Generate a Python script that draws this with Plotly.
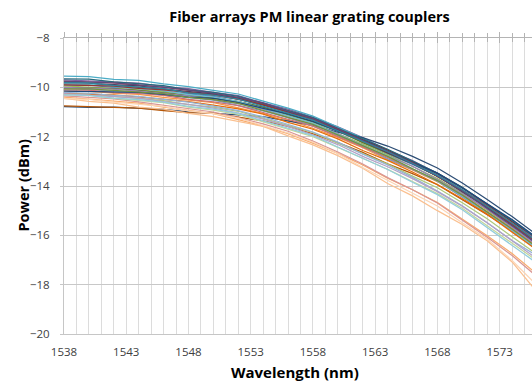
import plotly.graph_objects as go

# ---------------- data ----------------
wavelength = [1538, 1540, 1542, 1544, 1546, 1548, 1550, 1552, 1554, 1556,
              1558, 1560, 1562, 1564, 1566, 1568, 1570, 1572, 1574, 1576]

x_tick_vals = [1538, 1543, 1548, 1553, 1558, 1563, 1568, 1573]
y_tick_vals = [-20, -18, -16, -14, -12, -10, -8]

s01 = [-9.91, -9.91, -10.0, -10.04, -10.16, -10.27, -10.37, -10.58, -10.81, -11.08,
       -11.41, -11.79, -12.22, -12.7, -13.13, -13.6, -14.23, -14.86, -15.54, -16.32]
s02 = [-9.76, -9.79, -9.82, -9.92, -9.99, -10.12, -10.22, -10.43, -10.65, -10.93,
       -11.27, -11.65, -12.13, -12.55, -13.04, -13.53, -14.15, -14.77, -15.5, -16.24]
s03 = [-9.94, -9.99, -10.03, -10.1, -10.18, -10.34, -10.44, -10.59, -10.87, -11.15,
       -11.43, -11.87, -12.3, -12.73, -13.21, -13.7, -14.28, -14.97, -15.65, -16.38]
s04 = [-9.70, -9.74, -9.78, -9.83, -9.97, -10.05, -10.2, -10.34, -10.63, -10.88,
       -11.22, -11.6, -12.04, -12.54, -12.97, -13.5, -14.07, -14.76, -15.44, -16.22]
s05 = [-9.55, -9.57, -9.68, -9.72, -9.86, -9.97, -10.12, -10.27, -10.56, -10.84,
       -11.17, -11.6, -12.06, -12.57, -13.02, -13.57, -14.16, -14.87, -15.58, -16.35]
s06 = [-10.16, -10.16, -10.24, -10.29, -10.41, -10.52, -10.62, -10.83, -11.06, -11.33,
       -11.66, -12.03, -12.45, -12.93, -13.35, -13.82, -14.45, -15.07, -15.74, -16.52]
s07 = [-10.78, -10.81, -10.8, -10.86, -10.89, -10.99, -11.04, -11.12, -11.19, -11.36,
       -11.54, -11.82, -12.04, -12.38, -12.8, -13.27, -13.88, -14.55, -15.24, -15.98]
s08 = [-9.85, -9.88, -9.91, -10.0, -10.06, -10.21, -10.3, -10.45, -10.73, -11.0,
       -11.27, -11.7, -12.12, -12.54, -13.01, -13.49, -14.06, -14.74, -15.41, -16.13]
s09 = [-10.0, -10.03, -10.05, -10.12, -10.22, -10.3, -10.43, -10.58, -10.8, -11.12,
       -11.39, -11.76, -12.24, -12.66, -13.08, -13.61, -14.18, -14.85, -15.53, -16.25]
s10 = [-9.79, -9.84, -9.89, -9.94, -10.07, -10.17, -10.27, -10.48, -10.7, -10.98,
       -11.33, -11.72, -12.16, -12.66, -13.1, -13.59, -14.24, -14.88, -15.57, -16.37]
s11 = [-9.66, -9.67, -9.78, -9.84, -9.93, -10.1, -10.2, -10.37, -10.66, -10.95,
       -11.23, -11.66, -12.08, -12.51, -12.99, -13.47, -14.05, -14.73, -15.4, -16.13]
s12 = [-10.75, -10.78, -10.8, -10.84, -10.94, -11.03, -11.05, -11.2, -11.36, -11.58,
       -11.89, -12.24, -12.64, -13.1, -13.5, -13.95, -14.56, -15.16, -15.81, -16.57]
s13 = [-10.04, -10.09, -10.14, -10.19, -10.32, -10.42, -10.52, -10.73, -10.96, -11.23,
       -11.57, -11.96, -12.4, -12.89, -13.33, -13.81, -14.45, -15.09, -15.78, -16.57]
s14 = [-10.1, -10.11, -10.21, -10.25, -10.33, -10.49, -10.59, -10.74, -11.02, -11.3,
       -11.57, -12.0, -12.42, -12.84, -13.32, -13.79, -14.36, -15.04, -15.71, -16.43]
s15 = [-10.26, -10.27, -10.37, -10.44, -10.54, -10.7, -10.8, -10.97, -11.26, -11.55,
       -11.83, -12.26, -12.69, -13.11, -13.6, -14.07, -14.68, -15.33, -16.06, -16.77]
s16 = [-10.0, -10.04, -10.07, -10.15, -10.26, -10.35, -10.5, -10.66, -10.88, -11.22,
       -11.5, -11.87, -12.36, -12.78, -13.2, -13.74, -14.32, -14.94, -15.67, -16.4]
s17 = [-9.86, -9.87, -9.97, -10.04, -10.13, -10.3, -10.4, -10.57, -10.86, -11.15,
       -11.45, -11.9, -12.35, -12.79, -13.3, -13.79, -14.39, -15.1, -15.8, -16.53]
s18 = [-10.4, -10.47, -10.55, -10.64, -10.8, -10.94, -11.07, -11.31, -11.57, -11.88,
       -12.26, -12.68, -13.15, -13.68, -14.15, -14.67, -15.35, -16.02, -16.74, -17.57]
s19 = [-10.15, -10.16, -10.2, -10.2, -10.29, -10.4, -10.45, -10.62, -10.85, -11.08,
       -11.38, -11.77, -12.15, -12.6, -13.04, -13.48, -14.08, -14.72, -15.36, -16.1]
s20 = [-9.9, -9.92, -9.95, -10.04, -10.1, -10.2, -10.32, -10.49, -10.7, -11.02,
       -11.3, -11.69, -12.17, -12.62, -13.05, -13.6, -14.18, -14.82, -15.56, -16.3]
s21 = [-10.06, -10.06, -10.12, -10.2, -10.26, -10.41, -10.5, -10.65, -10.93, -11.2,
       -11.5, -11.93, -12.37, -12.8, -13.3, -13.78, -14.37, -15.06, -15.74, -16.48]
s22 = [-9.75, -9.79, -9.82, -9.9, -10.0, -10.1, -10.25, -10.41, -10.63, -10.97,
       -11.26, -11.68, -12.16, -12.59, -13.07, -13.6, -14.2, -14.9, -15.6, -16.33]
s23 = [-9.81, -9.82, -9.92, -9.97, -10.05, -10.22, -10.32, -10.48, -10.77, -11.05,
       -11.33, -11.76, -12.19, -12.61, -13.09, -13.57, -14.15, -14.83, -15.51, -16.24]
s24 = [-10.25, -10.29, -10.31, -10.39, -10.49, -10.58, -10.72, -10.87, -11.09, -11.42,
       -11.7, -12.09, -12.56, -12.96, -13.43, -13.94, -14.52, -15.14, -15.87, -16.6]
s25 = [-10.2, -10.24, -10.33, -10.37, -10.49, -10.6, -10.76, -10.94, -11.2, -11.5,
       -11.81, -12.22, -12.71, -13.15, -13.65, -14.2, -14.8, -15.49, -16.21, -16.83]
s26 = [-10.35, -10.41, -10.47, -10.59, -10.72, -10.84, -11.0, -11.23, -11.48, -11.78,
       -12.18, -12.62, -13.11, -13.66, -14.15, -14.69, -15.39, -16.08, -16.82, -17.67]
s27 = [-10.3, -10.33, -10.45, -10.52, -10.62, -10.8, -10.92, -11.1, -11.4, -11.7,
       -12.0, -12.44, -12.88, -13.32, -13.82, -14.31, -14.9, -15.6, -16.29, -17.03]
s28 = [-10.25, -10.31, -10.37, -10.44, -10.58, -10.69, -10.84, -11.04, -11.29, -11.58,
       -11.93, -12.32, -12.8, -13.22, -13.7, -14.23, -14.82, -15.49, -16.22, -16.95]
s29 = [-10.31, -10.33, -10.44, -10.5, -10.6, -10.77, -10.88, -11.06, -11.36, -11.65,
       -11.96, -12.42, -12.88, -13.33, -13.85, -14.35, -14.96, -15.67, -16.38, -17.13]
s30 = [-10.45, -10.57, -10.64, -10.8, -10.88, -11.06, -11.19, -11.39, -11.58, -11.97,
       -12.33, -12.77, -13.28, -13.9, -14.4, -15.0, -15.56, -16.22, -17.08, -18.3]
s31 = [-10.46, -10.49, -10.6, -10.67, -10.77, -10.95, -11.07, -11.25, -11.55, -11.85,
       -12.22, -12.68, -13.25, -13.76, -14.27, -14.81, -15.49, -16.15, -17.02, -18.03]

series_values = [s01, s02, s03, s04, s05, s06, s07, s08, s09, s10, s11, s12, s13, s14, s15, s16,
                 s17, s18, s19, s20, s21, s22, s23, s24, s25, s26, s27, s28, s29, s30, s31]
series_colors = ["#4F81BD", "#C0504D", "#9BBB59", "#8064A2", "#4BACC6", "#F79646",
                 "#2C4D75", "#772C2A", "#5F7530", "#4D3B62", "#276A7C", "#B65708",
                 "#729ACA", "#CD7371", "#AFC97A", "#9983B5", "#6FBDD1", "#F9AB6B",
                 "#1F497D", "#943634", "#76923C", "#5F497A", "#31859C", "#E46C0A",
                 "#95B3D7", "#D99694", "#C3D69B", "#B3A2C7", "#93CDDD", "#FAC090",
                 "#FCD5B5"]

# ---------------- figure ----------------
FONT = "Open Sans"
fig = go.Figure()
for i, (vals, col) in enumerate(zip(series_values, series_colors)):
    fig.add_trace(go.Scatter(x=wavelength, y=vals, mode="lines",
                             line=dict(color=col, width=1.25),
                             name=f"FA {i + 1}", showlegend=False))

# empty helper traces so that the top tick-mark axes get drawn
fig.add_trace(go.Scatter(x=[], y=[], xaxis="x2", yaxis="y", showlegend=False, hoverinfo="skip"))
fig.add_trace(go.Scatter(x=[], y=[], xaxis="x3", yaxis="y", showlegend=False, hoverinfo="skip"))

x_range = [1538, 1575.6]
tick_grey = "#b4b4b4"
fig.update_layout(
    width=532, height=383,
    margin=dict(l=64, r=0, t=38, b=49),
    paper_bgcolor="white", plot_bgcolor="white",
    showlegend=False,
    font=dict(family=FONT, color="#404040", size=12),
    xaxis=dict(range=x_range, tickmode="array", tickvals=x_tick_vals,
               ticktext=[str(v) for v in x_tick_vals],
               showgrid=True, gridcolor="#dcdcdc", gridwidth=1,
               minor=dict(dtick=1, tick0=1538, showgrid=True, gridcolor="#dcdcdc", gridwidth=1),
               showline=True, linecolor="#c6c6c6", linewidth=1,
               ticks="", ticklabelstandoff=7,
               tickfont=dict(family=FONT, size=11.5, color="#404040"),
               zeroline=False, fixedrange=True),
    xaxis2=dict(range=x_range, overlaying="x", side="top", anchor="y",
                tick0=1538, dtick=5, showgrid=False, showticklabels=False,
                showline=True, linecolor=tick_grey, linewidth=1,
                ticks="outside", ticklen=5, tickcolor=tick_grey, tickwidth=1,
                minor=dict(dtick=1, tick0=1538, ticks="outside", ticklen=4,
                           tickcolor=tick_grey, showgrid=False),
                zeroline=False, fixedrange=True),
    xaxis3=dict(range=x_range, overlaying="x", side="top", anchor="y",
                tick0=1538, dtick=5, showgrid=False, showticklabels=False,
                showline=False,
                ticks="inside", ticklen=5, tickcolor=tick_grey, tickwidth=1,
                minor=dict(dtick=1, tick0=1538, ticks="inside", ticklen=4,
                           tickcolor=tick_grey, showgrid=False),
                zeroline=False, fixedrange=True),
    yaxis=dict(range=[-20, -8], tickmode="array", tickvals=y_tick_vals,
               showgrid=True, gridcolor="#c8c8c8", gridwidth=1,
               showline=True, linecolor="#c6c6c6", linewidth=1,
               ticks="outside", ticklen=3, tickcolor="#c6c6c6",
               ticklabelstandoff=8,
               tickfont=dict(family=FONT, size=11.5, color="#404040"),
               zeroline=False, fixedrange=True),
    title=dict(text="<b>Fiber arrays PM linear grating couplers</b>",
               x=0.5246, xref="paper", xanchor="center",
               y=1 - 17 / 383, yref="container", yanchor="middle",
               font=dict(family=FONT, size=14.5, color="#000000")),
    annotations=[
        dict(text="<b>Wavelength (nm)</b>", xref="paper", yref="paper",
             x=(294.7 - 64) / 468, y=-(372 - 334) / 296,
             xanchor="center", yanchor="middle", showarrow=False,
             font=dict(family=FONT, size=15, color="#000000")),
        dict(text="<b>Power (dBm)</b>", xref="paper", yref="paper",
             x=-(64 - 22.5) / 468, y=0.5, textangle=-90,
             xanchor="center", yanchor="middle", showarrow=False,
             font=dict(family=FONT, size=14.5, color="#000000")),
    ],
)

fig.write_html("out.html")
